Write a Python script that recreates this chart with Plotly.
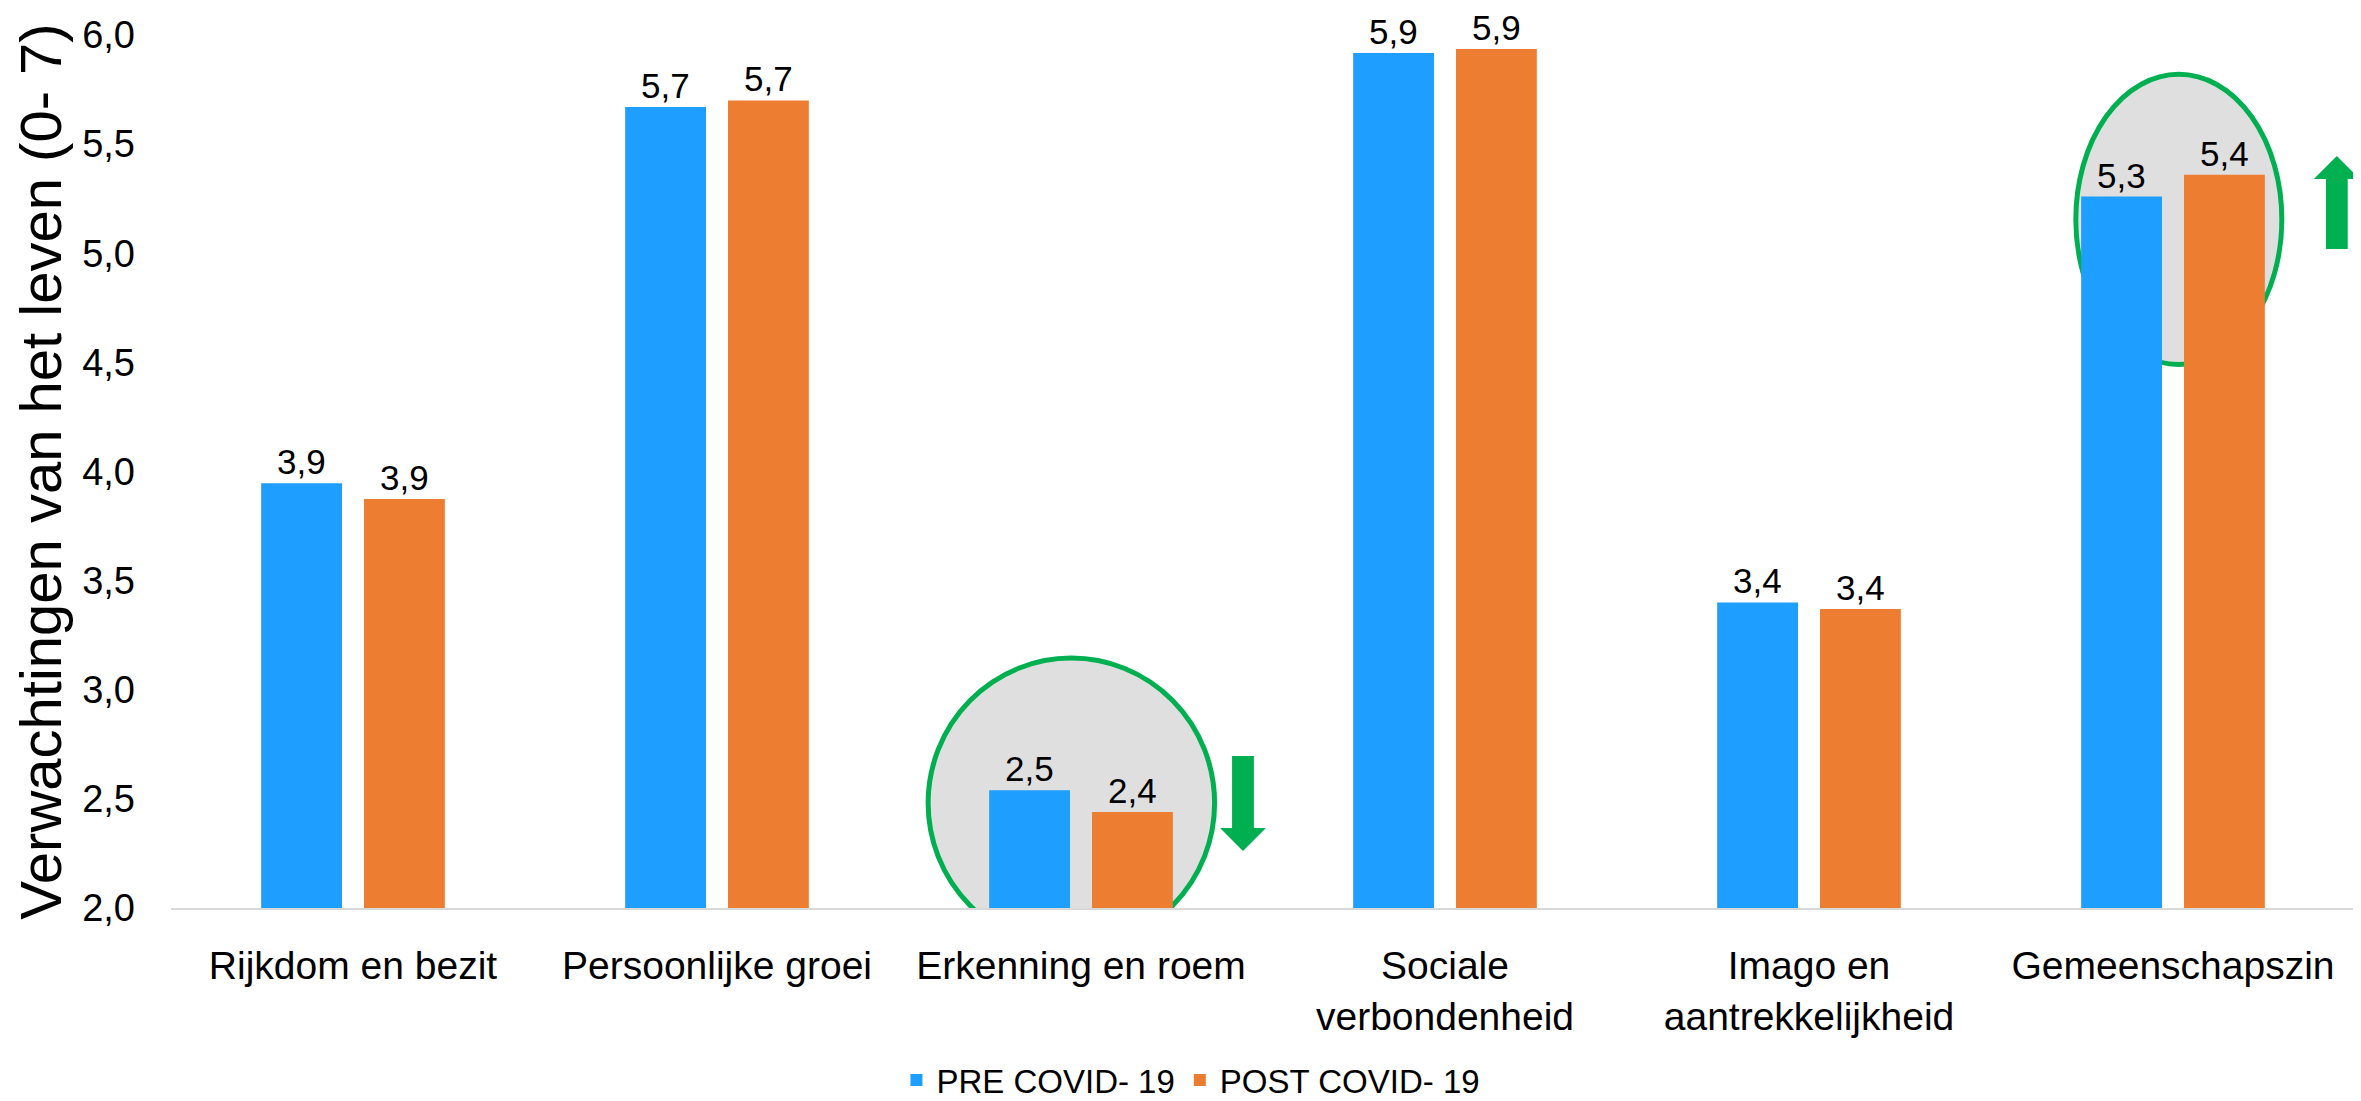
import plotly.graph_objects as go

categories = ["Rijkdom en bezit", "Persoonlijke groei", "Erkenning en roem",
              "Sociale<br>verbondenheid", "Imago en<br>aantrekkelijkheid", "Gemeenschapszin"]
pre_covid = [3.946, 5.67, 2.54, 5.918, 3.40, 5.26]
post_covid = [3.874, 5.70, 2.44, 5.936, 3.37, 5.36]
series_names = ["PRE COVID- 19", "POST COVID- 19"]
y_ticks = [2.0, 2.5, 3.0, 3.5, 4.0, 4.5, 5.0, 5.5, 6.0]

BLUE = "#1E9EFF"
ORANGE = "#ED7D31"
GREEN = "#00B050"
GREY = "#DFDFDF"
FONT = "Liberation Sans Narrow, Arial Narrow, Liberation Sans, Arial"

BARGAP = 0.435
slot = (1 - BARGAP) / 2

fig = go.Figure()
series = [(series_names[0], pre_covid, BLUE, -slot / 2), (series_names[1], post_covid, ORANGE, slot / 2)]
for name, vals, col, off in series:
    xs = list(range(len(categories)))
    fig.add_trace(go.Bar(x=xs, y=vals, name=name, marker_color=col, marker_line_width=0))
    for xi, v in zip(xs, vals):
        fig.add_annotation(x=xi + off, y=v, xref="x", yref="y", text=f"{v:.1f}".replace(".", ","),
                           showarrow=False, yanchor="bottom", yshift=1, borderpad=0,
                           font=dict(family=FONT, size=35, color="black"))

# highlight circles
fig.add_shape(type="circle", xref="x", yref="y", x0=1.58, x1=2.367, y0=1.817, y1=3.145,
              fillcolor=GREY, line=dict(color=GREEN, width=5), layer="below")
fig.add_shape(type="circle", xref="x", yref="y", x0=4.733, x1=5.299, y0=4.49, y1=5.82,
              fillcolor=GREY, line=dict(color=GREEN, width=5), layer="below")

# arrows
def arrow(xc, ytail, yhead, ybase, sw=0.030, hw=0.063):
    return (f"M {xc-sw} {ytail} L {xc+sw} {ytail} L {xc+sw} {ybase} L {xc+hw} {ybase} "
            f"L {xc} {yhead} L {xc-hw} {ybase} L {xc-sw} {ybase} Z")

fig.add_shape(type="path", xref="x", yref="y", path=arrow(2.445, 2.697, 2.261, 2.367),
              fillcolor=GREEN, line=dict(width=0))
fig.add_shape(type="path", xref="x", yref="y", path=arrow(5.45, 5.02, 5.446, 5.34),
              fillcolor=GREEN, line=dict(width=0))

fig.update_layout(
    width=2361, height=1101,
    margin=dict(l=163, r=14, t=27, b=201, autoexpand=False),
    paper_bgcolor="white", plot_bgcolor="white",
    separators=",.",
    barmode="group", bargap=BARGAP, bargroupgap=0.214,
    showlegend=True,
    legend=dict(orientation="h", x=0.467, xanchor="center", y=-0.197, yanchor="middle",
                font=dict(family=FONT, size=33, color="black"), itemwidth=30),
    font=dict(family=FONT, color="black"),
)
fig.update_xaxes(
    tickmode="array", tickvals=list(range(len(categories))), ticktext=categories,
    range=[-0.5, 5.5], showgrid=False, zeroline=False, automargin=False,
    showline=True, linecolor="#D9D9D9", linewidth=2, ticks="", ticklabelstandoff=22,
    tickfont=dict(family=FONT, size=39, color="black"),
)
fig.update_yaxes(
    range=[2, 6], tickvals=y_ticks, tickformat=".1f", showgrid=False, zeroline=False,
    showline=False, ticks="", ticklabelstandoff=35, automargin=False,
    tickfont=dict(family=FONT, size=38, color="black"),
    title=dict(text="Verwachtingen van het leven (0- 7)",
               font=dict(family="Liberation Sans, Arial", size=58, color="black"), standoff=9),
)

fig.write_html("out.html")
